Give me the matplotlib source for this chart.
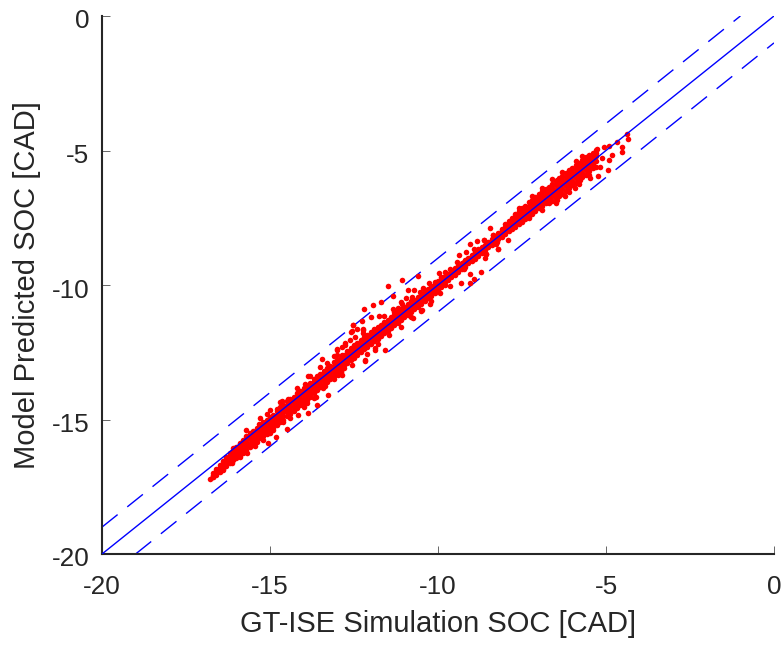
import numpy as np
import matplotlib
matplotlib.use("Agg")
import matplotlib.pyplot as plt
from matplotlib.transforms import ScaledTranslation

plt.rcParams['font.family'] = ['Liberation Sans', 'DejaVu Sans']
plt.rcParams['axes.unicode_minus'] = False

xlabel = "GT-ISE Simulation SOC [CAD]"
ylabel = "Model Predicted SOC [CAD]"
ticks_x = [-20, -15, -10, -5, 0]
ticks_y = [-20, -15, -10, -5, 0]
center_x = [-20, 0]
center_y = [-20, 0]
upper_x = [-20, -1]
upper_y = [-19, 0]
lower_x = [-19, 0]
lower_y = [-20, -1]

band_x = [
 -16.7,-16.6,-16.5,-16.4,-16.3,-16.2,-16.1,-16.0,-15.9,-15.8,
 -15.7,-15.6,-15.5,-15.4,-15.3,-15.2,-15.1,-15.0,-14.9,-14.8,
 -14.7,-14.6,-14.5,-14.4,-14.3,-14.2,-14.1,-14.0,-13.9,-13.8,
 -13.7,-13.6,-13.5,-13.4,-13.3,-13.2,-13.1,-13.0,-12.9,-12.8,
 -12.7,-12.6,-12.5,-12.4,-12.3,-12.2,-12.1,-12.0,-11.9,-11.8,
 -11.7,-11.6,-11.5,-11.4,-11.3,-11.2,-11.1,-11.0,-10.9,-10.8,
 -10.7,-10.6,-10.5,-10.4,-10.3,-10.2,-10.1,-10.0,-9.9,-9.8,
 -9.7,-9.6,-9.5,-9.4,-9.3,-9.2,-9.1,-9.0,-8.9,-8.8,
 -8.7,-8.6,-8.5,-8.4,-8.3,-8.2,-8.1,-8.0,-7.9,-7.8,
 -7.7,-7.6,-7.5,-7.4,-7.3,-7.2,-7.1,-7.0,-6.9,-6.8,
 -6.7,-6.6,-6.5,-6.4,-6.3,-6.2,-6.1,-6.0,-5.9,-5.8,
 -5.7,-5.6,-5.5,-5.4,-5.3]
band_low = [
 -17.15,-17.05,-16.95,-16.85,-16.72,-16.62,-16.5,-16.42,-16.33,-16.24,
 -16.12,-16.04,-15.9,-15.83,-15.7,-15.62,-15.53,-15.42,-15.3,-15.22,
 -15.08,-15.0,-14.87,-14.78,-14.7,-14.57,-14.47,-14.4,-14.27,-14.18,
 -14.0,-13.92,-13.8,-13.7,-13.6,-13.5,-13.38,-13.3,-13.2,-13.08,
 -12.9,-12.8,-12.72,-12.6,-12.5,-12.38,-12.3,-12.2,-12.1,-12.0,
 -11.9,-11.8,-11.7,-11.6,-11.48,-11.42,-11.3,-11.2,-11.1,-11.0,
 -10.9,-10.82,-10.7,-10.6,-10.5,-10.4,-10.3,-10.2,-10.08,-10.0,
 -9.82,-9.72,-9.62,-9.5,-9.42,-9.32,-9.2,-9.12,-9.02,-8.92,
 -8.8,-8.7,-8.6,-8.5,-8.4,-8.3,-8.2,-8.1,-8.0,-7.9,
 -7.85,-7.75,-7.65,-7.55,-7.45,-7.35,-7.25,-7.15,-7.05,-6.95,
 -6.95,-6.87,-6.78,-6.68,-6.6,-6.5,-6.4,-6.3,-6.2,-6.1,
 -6.0,-5.9,-5.75,-5.65,-5.6]
band_q1 = [
 -17.12,-17.0,-16.9,-16.78,-16.63,-16.52,-16.42,-16.32,-16.22,-16.13,
 -15.98,-15.9,-15.78,-15.68,-15.57,-15.48,-15.38,-15.28,-15.17,-15.08,
 -14.94,-14.86,-14.73,-14.63,-14.55,-14.43,-14.33,-14.25,-14.12,-14.04,
 -13.88,-13.79,-13.68,-13.57,-13.48,-13.38,-13.27,-13.17,-13.08,-12.97,
 -12.79,-12.69,-12.62,-12.5,-12.39,-12.29,-12.19,-12.11,-12.0,-11.89,
 -11.79,-11.7,-11.59,-11.5,-11.39,-11.3,-11.2,-11.1,-11.0,-10.9,
 -10.79,-10.71,-10.6,-10.49,-10.4,-10.3,-10.2,-10.09,-9.99,-9.9,
 -9.76,-9.65,-9.56,-9.45,-9.36,-9.26,-9.15,-9.06,-8.96,-8.86,
 -8.75,-8.65,-8.55,-8.45,-8.34,-8.24,-8.12,-8.02,-7.91,-7.8,
 -7.72,-7.62,-7.52,-7.41,-7.32,-7.22,-7.11,-7.02,-6.92,-6.82,
 -6.8,-6.71,-6.61,-6.51,-6.42,-6.32,-6.22,-6.12,-6.02,-5.92,
 -5.82,-5.72,-5.6,-5.5,-5.4]
band_mid = [
 -17.1,-16.95,-16.82,-16.7,-16.55,-16.42,-16.33,-16.22,-16.12,-16.03,
 -15.85,-15.74,-15.66,-15.54,-15.44,-15.33,-15.25,-15.13,-15.05,-14.95,
 -14.8,-14.72,-14.6,-14.48,-14.4,-14.3,-14.2,-14.1,-13.98,-13.9,
 -13.75,-13.66,-13.55,-13.44,-13.36,-13.25,-13.15,-13.04,-12.96,-12.85,
 -12.68,-12.58,-12.52,-12.4,-12.28,-12.2,-12.08,-12.02,-11.9,-11.78,
 -11.68,-11.6,-11.48,-11.4,-11.3,-11.18,-11.1,-11.0,-10.9,-10.8,
 -10.68,-10.6,-10.5,-10.38,-10.3,-10.2,-10.1,-9.98,-9.9,-9.8,
 -9.7,-9.58,-9.5,-9.4,-9.3,-9.2,-9.1,-9.0,-8.9,-8.8,
 -8.7,-8.6,-8.5,-8.4,-8.28,-8.18,-8.05,-7.95,-7.82,-7.7,
 -7.6,-7.5,-7.4,-7.28,-7.2,-7.1,-6.98,-6.9,-6.8,-6.7,
 -6.65,-6.55,-6.45,-6.35,-6.25,-6.15,-6.05,-5.95,-5.85,-5.75,
 -5.65,-5.55,-5.45,-5.35,-5.2]
band_q3 = [
 -17.05,-16.9,-16.76,-16.62,-16.46,-16.33,-16.23,-16.12,-16.0,-15.9,
 -15.73,-15.62,-15.54,-15.42,-15.33,-15.21,-15.13,-15.01,-14.93,-14.82,
 -14.67,-14.58,-14.46,-14.36,-14.27,-14.16,-14.07,-13.96,-13.86,-13.76,
 -13.62,-13.53,-13.42,-13.31,-13.23,-13.12,-13.01,-12.92,-12.83,-12.72,
 -12.56,-12.46,-12.37,-12.27,-12.16,-12.06,-11.96,-11.87,-11.77,-11.66,
 -11.59,-11.49,-11.39,-11.29,-11.2,-11.08,-11.0,-10.9,-10.8,-10.69,
 -10.61,-10.51,-10.42,-10.31,-10.22,-10.11,-10.02,-9.91,-9.81,-9.72,
 -9.64,-9.53,-9.44,-9.34,-9.24,-9.14,-9.04,-8.94,-8.84,-8.74,
 -8.65,-8.55,-8.45,-8.35,-8.24,-8.11,-7.97,-7.85,-7.72,-7.6,
 -7.47,-7.37,-7.27,-7.16,-7.06,-6.96,-6.85,-6.76,-6.66,-6.56,
 -6.5,-6.4,-6.3,-6.2,-6.1,-6.0,-5.9,-5.8,-5.7,-5.6,
 -5.5,-5.4,-5.3,-5.22,-5.09]
band_high = [
 -17.0,-16.85,-16.7,-16.55,-16.38,-16.25,-16.13,-16.02,-15.9,-15.78,
 -15.62,-15.5,-15.42,-15.31,-15.22,-15.1,-15.02,-14.9,-14.82,-14.7,
 -14.55,-14.45,-14.33,-14.25,-14.15,-14.03,-13.95,-13.83,-13.75,-13.63,
 -13.5,-13.4,-13.3,-13.18,-13.1,-13.0,-12.88,-12.8,-12.7,-12.6,
 -12.45,-12.35,-12.22,-12.15,-12.05,-11.93,-11.85,-11.73,-11.65,-11.55,
 -11.5,-11.38,-11.3,-11.18,-11.1,-10.98,-10.9,-10.8,-10.7,-10.58,
 -10.55,-10.43,-10.35,-10.25,-10.15,-10.03,-9.95,-9.85,-9.72,-9.65,
 -9.58,-9.48,-9.38,-9.28,-9.18,-9.08,-8.98,-8.88,-8.78,-8.68,
 -8.6,-8.5,-8.4,-8.3,-8.2,-8.05,-7.9,-7.75,-7.62,-7.5,
 -7.35,-7.25,-7.15,-7.05,-6.93,-6.83,-6.73,-6.62,-6.52,-6.42,
 -6.35,-6.25,-6.15,-6.04,-5.95,-5.85,-5.74,-5.65,-5.55,-5.45,
 -5.35,-5.25,-5.15,-5.08,-4.98]

out_x = [
 -12.17,-13.46,-13.86,-13.26,-13.59,-13.86,-14.65,-14.50,-14.82,-15.05,-16.09,
 -12.52,-12.24,-12.59,-12.47,-12.77,-13.02,-11.87,-11.58,-13.96,-14.19,-14.45,
 -14.78,-15.08,-15.32,-15.55,-15.89,-13.11,-12.97,-13.11,-13.41,-13.63,-13.91,
 -14.16,-14.4,-15.0,-15.25,-15.45,-15.69,-16.14,-16.39,
 -10.61,-11.07,-11.50,-11.34,-10.90,-11.70,-11.94,-12.21,-11.77,-12.0,-12.27,
 -12.52,-12.57,-12.42,-12.22,-12.22,-12.61,-12.76,-13.01,-12.86,-13.11,-12.57,
 -12.17,-11.87,-12.86,-8.84,-8.63,-9.06,-8.94,-9.16,-9.38,-8.58,-8.6,-8.22,
 -8.27,-8.37,-9.04,-8.73,-8.92,-9.04,-9.32,-9.64,-9.94,-9.98,-9.79,-10.28,
 -10.08,-9.44,-9.64,-9.24,-9.24,-10.23,-10.48,-10.73,-11.08,-10.78,-10.53,-11.32,
 -4.38,-4.34,-4.66,-4.51,-4.51,-4.83,-4.9,-5.13,-4.93,-5.06,-4.9,-5.28,-5.4,
 -5.57,-5.23,-5.18,-5.48,-5.77,-5.92,-6.22,-6.47,-6.07,-6.47,-8.45,-8.37,-7.91,
 -8.63,-8.22,-8.25,-8.57,-8.6,-16.79,
 -11.6,-11.35,-11.1,-10.95,-10.7,-10.45,-11.2,-11.45,-11.1,-10.8,-10.5,-10.2,-11.8,-12.1,
 -13.8,-13.5,-13.3,-13.0,-12.85,-14.0,-13.7,-13.35,-12.9,
 -15.7,-15.3,-15.0,-14.7,-15.9,-15.5,-15.2,-14.9,-14.6,
 -7.6,-7.2,-6.9,-6.6,-6.3,-5.9,-5.7,-7.3,-6.9,-6.5,-6.1,-5.8,-5.5]
out_y = [
 -12.81,-12.76,-13.38,-14.09,-14.46,-14.74,-14.30,-15.36,-15.64,-15.86,-16.07,
 -11.49,-11.67,-11.73,-11.92,-12.17,-12.39,-12.35,-12.42,-13.68,-13.84,-14.25,
 -14.62,-14.79,-15.17,-15.49,-15.86,-13.16,-13.34,-13.51,-13.84,-14.17,-14.40,
 -14.83,-14.96,-15.51,-15.70,-15.98,-16.26,-16.63,-16.88,
 -9.66,-9.82,-10.04,-10.41,-10.19,-10.62,-10.74,-10.88,-11.16,-11.18,-11.33,
 -11.50,-11.71,-11.64,-11.62,-11.80,-12.05,-12.24,-12.40,-12.61,-12.64,-12.98,
 -12.79,-12.40,-13.35,-8.36,-8.31,-8.48,-8.67,-8.77,-8.89,-8.83,-9.01,-8.67,
 -8.46,-8.15,-9.60,-9.51,-9.76,-9.94,-9.91,-10.04,-10.31,-9.57,-9.51,-9.94,
 -9.88,-9.14,-9.42,-9.42,-9.14,-10.71,-10.93,-11.24,-10.69,-10.44,-10.25,-11.0,
 -4.37,-4.58,-4.70,-4.86,-5.06,-5.17,-5.36,-5.27,-5.73,-4.86,-4.82,-4.95,-5.17,
 -5.29,-5.95,-5.6,-6.04,-6.08,-6.41,-6.70,-6.84,-5.79,-6.08,-7.87,-8.14,-8.31,
 -8.31,-8.67,-8.39,-8.83,-8.58,-17.22,
 -11.15,-10.9,-10.65,-10.5,-10.2,-10.1,-10.85,-11.85,-11.55,-11.2,-10.95,-10.6,-12.2,-12.55,
 -13.4,-13.05,-12.9,-12.6,-12.3,-14.55,-14.2,-13.75,-13.25,
 -15.4,-14.95,-14.65,-14.35,-16.4,-15.95,-15.75,-15.4,-15.1,
 -7.15,-6.7,-6.4,-6.05,-5.8,-5.4,-5.2,-7.5,-7.2,-6.95,-6.55,-6.25,-5.9]

W, H = 782, 645
fig = plt.figure(figsize=(W/100, H/100), dpi=100)
ax = fig.add_axes([102/W, 1-554/H, (774-102)/W, (554-16)/H])

dash = (14.4, 8.9)
ax.plot(upper_x, upper_y, color='#0000ff', lw=1.0, dashes=dash, zorder=1)
ax.plot(lower_x, lower_y, color='#0000ff', lw=1.0, dashes=dash, zorder=1)

for ys in (band_low, band_q1, band_mid, band_q3, band_high):
    ax.plot(band_x, ys, ls='none', marker='o', ms=4.0, mfc='#ff0000', mew=0, zorder=2)
ax.plot(out_x, out_y, ls='none', marker='o', ms=4.0, mfc='#ff0000', mew=0, zorder=2)

ax.plot(center_x, center_y, color='#0000ff', lw=1.0, zorder=3)

ax.set_xlim(-20, 0)
ax.set_ylim(-20, 0)
ax.set_xticks(ticks_x)
ax.set_yticks(ticks_y)
ax.tick_params(direction='in', length=5.5, width=0.7, color='#666666', labelcolor='#262626',
               labelsize=18.8)
ax.tick_params(axis='x', pad=14.8)
ax.tick_params(axis='y', pad=9)
for s in ('top', 'right'):
    ax.spines[s].set_visible(False)
for s in ('left', 'bottom'):
    ax.spines[s].set_linewidth(1.5)
    ax.spines[s].set_color('#262626')
for lab in ax.get_yticklabels():
    lab.set_transform(lab.get_transform() + ScaledTranslation(0, -3/100, fig.dpi_scale_trans))
ax.set_xlabel(xlabel, fontsize=21, color='#262626', labelpad=8.3)
ax.set_ylabel(ylabel, fontsize=21, color='#262626', labelpad=7.5)

fig.savefig('out.png', dpi=100)
